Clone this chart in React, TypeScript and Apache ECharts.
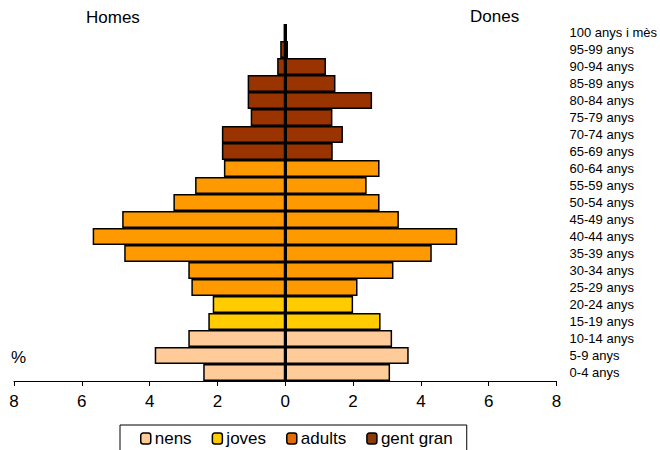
import React, { useEffect, useRef } from "react";
import * as echarts from "echarts";

const categories = [
  "0-4 anys", "5-9 anys", "10-14 anys", "15-19 anys", "20-24 anys", "25-29 anys",
  "30-34 anys", "35-39 anys", "40-44 anys", "45-49 anys", "50-54 anys", "55-59 anys",
  "60-64 anys", "65-69 anys", "70-74 anys", "75-79 anys", "80-84 anys", "85-89 anys",
  "90-94 anys", "95-99 anys", "100 anys i mès",
];
const homes = [2.42, 3.85, 2.86, 2.27, 2.14, 2.77, 2.86, 4.75, 5.68, 4.81, 3.3, 2.66, 1.81, 1.87, 1.87, 1.02, 1.11, 1.11, 0.24, 0.15, 0.05];
const dones = [3.09, 3.64, 3.15, 2.81, 2.0, 2.13, 3.19, 4.32, 5.07, 3.35, 2.78, 2.4, 2.78, 1.4, 1.7, 1.39, 2.56, 1.48, 1.2, 0.08, 0.05];
const groupNames = ["nens", "joves", "adults", "gent gran"];
const groupStart = [0, 3, 5, 13];
const groupEnd = [2, 4, 12, 20];
const groupColors = ["#FFCC99", "#FFCC00", "#FF9900", "#993300"];
const legendColors = ["#FFCC99", "#FFCC00", "#E36C0A", "#8B3A0A"];
const xTicks = [-8, -6, -4, -2, 0, 2, 4, 6, 8];

export default function App() {
  const ref = useRef<HTMLDivElement>(null);
  useEffect(() => {
    const chart = echarts.init(ref.current!, null, { renderer: "svg" });
    const series: any[] = [];
    groupNames.forEach((name, g) => {
      const mk = (arr: number[], sign: number) =>
        arr.map((v, i) => (i >= groupStart[g] && i <= groupEnd[g] ? sign * v : "-"));
      series.push({
        name,
        type: "bar",
        stack: "all",
        barCategoryGap: "0%",
        data: mk(homes, -1),
        itemStyle: { color: groupColors[g], borderColor: "#000", borderWidth: 1.5 },
      });
      series.push({
        name,
        type: "bar",
        stack: "all",
        barCategoryGap: "0%",
        data: mk(dones, 1),
        itemStyle: { color: groupColors[g], borderColor: "#000", borderWidth: 1.5 },
        ...(g === 3
          ? {
              markLine: {
                silent: true,
                symbol: "none",
                label: { show: false },
                lineStyle: { color: "#000", width: 2, type: "solid" },
                data: [{ xAxis: 0 }],
              },
            }
          : {}),
      });
    });
    chart.setOption({
      animation: false,
      textStyle: { fontFamily: "Liberation Sans" },
      grid: { left: 14, right: 102, top: 24, bottom: 69, containLabel: false },
      legend: {
        data: groupNames.map((n, i) => ({ name: n, itemStyle: { color: legendColors[i] } })),
        top: 425,
        left: 120,
        borderColor: "#000",
        borderWidth: 1,
        borderRadius: 0,
        padding: [5, 14, 6, 20],
        itemGap: 20,
        itemWidth: 10,
        itemHeight: 11,
        itemStyle: { borderColor: "#000", borderWidth: 1.5 },
        textStyle: { fontSize: 17, color: "#000", padding: [0, 0, 0, -1] },
      },
      xAxis: {
        type: "value",
        min: -8,
        max: 8,
        interval: 2,
        axisLine: { show: true, onZero: false, lineStyle: { color: "#000", width: 1 } },
        axisTick: { show: true, length: 5, lineStyle: { color: "#000" } },
        splitLine: { show: false },
        axisLabel: {
          fontSize: 17,
          color: "#000",
          margin: 12,
          formatter: (v: number) => (xTicks.includes(v) ? String(Math.abs(v)) : ""),
        },
      },
      yAxis: {
        type: "category",
        data: categories,
        position: "right",
        axisLine: { show: false },
        axisTick: { show: false },
        axisLabel: { fontSize: 13, color: "#000", margin: 13 },
      },
      graphic: [
        { type: "text", left: 86, top: 9, style: { text: "Homes", fontSize: 17, fill: "#000", fontFamily: "Liberation Sans" } },
        { type: "text", left: 470, top: 8, style: { text: "Dones", fontSize: 17, fill: "#000", fontFamily: "Liberation Sans" } },
        { type: "text", left: 11, top: 349, style: { text: "%", fontSize: 17, fill: "#000", fontFamily: "Liberation Sans" } },
      ],
      series,
    });
    return () => chart.dispose();
  }, []);
  return (
    <div
      ref={ref}
      style={{ position: "absolute", left: 0, top: 0, width: 660, height: 450, background: "#fff" }}
    />
  );
}
